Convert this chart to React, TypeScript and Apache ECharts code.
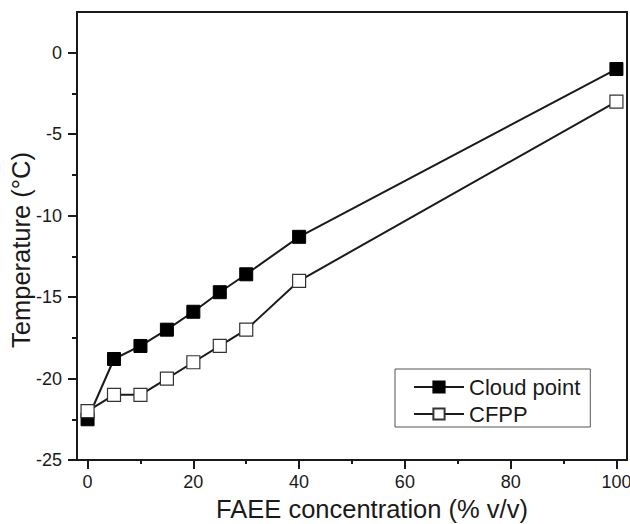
import React, { useEffect, useRef } from "react";
import * as echarts from "echarts";

// FAEE blend concentration (% v/v)
const concentration = [0, 5, 10, 15, 20, 25, 30, 40, 100];
// Cloud point temperature (°C)
const cloudPoint = [-22.5, -18.8, -18, -17, -15.9, -14.7, -13.6, -11.3, -1];
// Cold filter plugging point (°C)
const cfpp = [-22, -21, -21, -20, -19, -18, -17, -14, -3];

const xMajorTicks = [0, 20, 40, 60, 80, 100];
const xMinorTicks = [10, 30, 50, 70, 90];
const yMajorTicks = [-25, -20, -15, -10, -5, 0];
const yMinorTicks = [-22.5, -17.5, -12.5, -7.5, -2.5];

const FONT = "'Liberation Sans', Arial, Helvetica, sans-serif";
const INK = "#1a1a1a";

export default function App() {
  const ref = useRef<HTMLDivElement>(null);

  useEffect(() => {
    if (!ref.current) return;
    const chart = echarts.init(ref.current, undefined, { renderer: "svg" });

    const xRange = { min: -2, max: 102 };
    const yRange = { min: -25, max: 2.5 };

    chart.setOption({
      animation: false,
      backgroundColor: "#ffffff",
      textStyle: { fontFamily: FONT },
      grid: {
        left: 77,
        right: 3,
        top: 12,
        bottom: 64,
        outerBoundsMode: "none",
        containLabel: false,
        show: true,
        borderColor: INK,
        borderWidth: 2,
        backgroundColor: "transparent",
      },
      legend: {
        orient: "vertical",
        left: 395,
        top: 369,
        padding: [7, 10, 2, 18],
        itemGap: 5,
        itemWidth: 50,
        itemHeight: 14,
        borderColor: "#555",
        borderWidth: 1,
        textStyle: { fontFamily: FONT, fontSize: 22, color: INK },
        data: ["Cloud point", "CFPP"],
      },
      xAxis: [
        {
          type: "value",
          ...xRange,
          name: "FAEE concentration (% v/v)",
          nameLocation: "middle",
          nameGap: 36,
          nameMoveOverlap: false,
          nameTextStyle: { fontFamily: FONT, fontSize: 25.5, color: INK, padding: [0, 0, 0, 40] },
          axisLine: { show: true, onZero: false, lineStyle: { color: INK, width: 2 } },
          axisTick: {
            show: true,
            inside: false,
            length: 9,
            customValues: xMajorTicks,
            lineStyle: { color: INK, width: 2 },
          },
          axisLabel: {
            customValues: xMajorTicks,
            margin: 13,
            fontFamily: FONT,
            fontSize: 18,
            color: INK,
          },
          splitLine: { show: false },
        },
        {
          // minor ticks between the labelled values
          type: "value",
          ...xRange,
          position: "bottom",
          axisLine: { show: false, onZero: false },
          axisTick: {
            show: true,
            inside: false,
            length: 4,
            customValues: xMinorTicks,
            lineStyle: { color: INK, width: 2 },
          },
          axisLabel: { show: false },
          splitLine: { show: false },
        },
      ],
      yAxis: [
        {
          type: "value",
          ...yRange,
          name: "Temperature (°C)",
          nameLocation: "middle",
          nameGap: 43,
          nameMoveOverlap: false,
          nameTextStyle: { fontFamily: FONT, fontSize: 25.5, color: INK, padding: [0, 28, 0, 0] },
          axisLine: { show: true, onZero: false, lineStyle: { color: INK, width: 2 } },
          axisTick: {
            show: true,
            inside: false,
            length: 9,
            customValues: yMajorTicks,
            lineStyle: { color: INK, width: 2 },
          },
          axisLabel: {
            customValues: yMajorTicks,
            margin: 15,
            fontFamily: FONT,
            fontSize: 18,
            color: INK,
          },
          splitLine: { show: false },
        },
        {
          // minor ticks between the labelled values
          type: "value",
          ...yRange,
          position: "left",
          axisLine: { show: false, onZero: false },
          axisTick: {
            show: true,
            inside: false,
            length: 5,
            customValues: yMinorTicks,
            lineStyle: { color: INK, width: 2 },
          },
          axisLabel: { show: false },
          splitLine: { show: false },
        },
      ],
      series: [
        {
          name: "Cloud point",
          type: "line",
          xAxisIndex: 0,
          yAxisIndex: 0,
          data: concentration.map((c, i) => [c, cloudPoint[i]]),
          symbol: "rect",
          symbolSize: 13,
          lineStyle: { color: INK, width: 2 },
          itemStyle: { color: "#000000", borderColor: "#000000", borderWidth: 1 },
          emphasis: { disabled: true },
        },
        {
          name: "CFPP",
          type: "line",
          xAxisIndex: 0,
          yAxisIndex: 0,
          data: concentration.map((c, i) => [c, cfpp[i]]),
          symbol: "rect",
          symbolSize: 13,
          lineStyle: { color: INK, width: 2 },
          itemStyle: { color: "#ffffff", borderColor: "#333333", borderWidth: 1.2 },
          emphasis: { disabled: true },
        },
      ],
    });

    return () => chart.dispose();
  }, []);

  return <div ref={ref} style={{ width: 630, height: 524, position: "absolute", left: 0, top: 0 }} />;
}
